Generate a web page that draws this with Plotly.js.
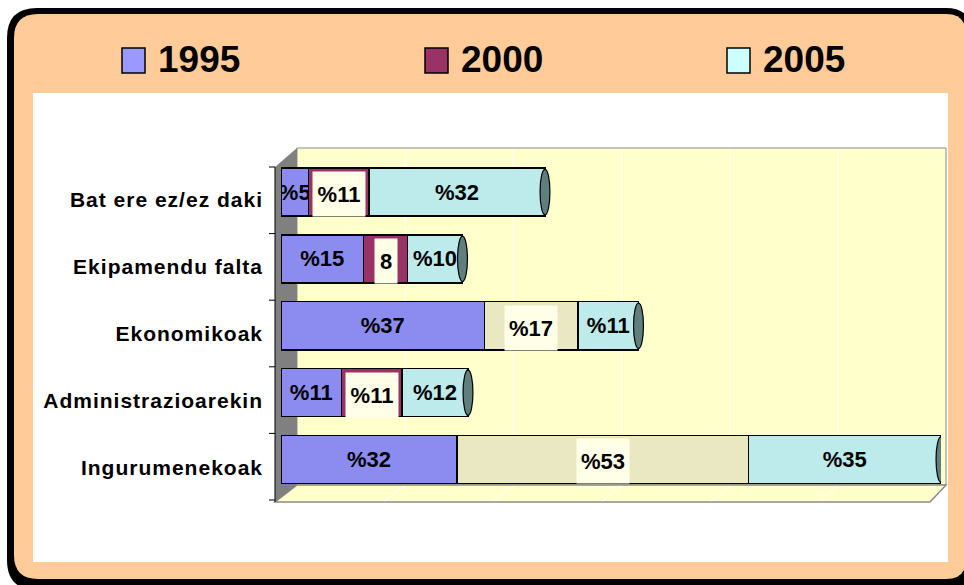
<!DOCTYPE html>
<html>
<head>
<meta charset="utf-8">
<script src="https://cdn.plot.ly/plotly-3.0.1.min.js"></script>
<style>
html,body{margin:0;padding:0;background:#fff;overflow:hidden;}
#chart{width:964px;height:585px;}
.ytick text{letter-spacing:1px;}
</style>
</head>
<body>
<div id="chart"></div>
<script>
// ---- data ----
const categories = ['Ingurumenekoak','Administrazioarekin','Ekonomikoak','Ekipamendu falta','Bat ere ez/ez daki'];
const years = ['1995','2000','2005'];
const v1995 = [32, 11, 37, 15, 5];
const v2000 = [53, 11, 17, 8, 11];
const v2005 = [35, 12, 11, 10, 32];
const lab1995 = ['%32','%11','%37','%15','%5'];
const lab2000 = ['%53','%11','%17','8','%11'];
const lab2005 = ['%35','%12','%11','%10','%32'];
const gridVals = [20, 40, 60, 80, 100];

// ---- styling helpers ----
const W = 964, H = 585;
const X = v => (v / W).toFixed(5);
const Y = v => (1 - v / H).toFixed(5);
function frame(x0, y0, x1, y1, r, rTR) {
  return `M${X(x0+r)},${Y(y0)} L${X(x1-rTR)},${Y(y0)} Q${X(x1)},${Y(y0)} ${X(x1)},${Y(y0+rTR)} ` +
         `L${X(x1)},${Y(y1-rTR)} Q${X(x1)},${Y(y1)} ${X(x1-rTR)},${Y(y1)} L${X(x0+r)},${Y(y1)} ` +
         `Q${X(x0)},${Y(y1)} ${X(x0)},${Y(y1-r)} L${X(x0)},${Y(y0+r)} Q${X(x0)},${Y(y0)} ${X(x0+r)},${Y(y0)} Z`;
}
function poly(pts) {
  return 'M' + pts.map(p => X(p[0]) + ',' + Y(p[1])).join(' L') + ' Z';
}
const paperShape = (path, fill, lineColor, lw) => ({
  type: 'path', xref: 'paper', yref: 'paper', layer: 'below', path: path,
  fillcolor: fill, line: {color: lineColor || 'rgba(0,0,0,0)', width: lw || 0}
});

const colors1995 = '#8c8cf0';
const colors2000 = ['#e9e8c2', '#993366', '#e9e8c2', '#993366', '#993366'];
const colors2005 = '#bdeaea';
const legendColors = ['#9999FF', '#993366', '#CCFFFF'];
const legendX = [122, 425, 727];

const shapes = [];
// frame
shapes.push(paperShape(frame(7, 8, 972, 590, 30, 26), '#000000'));
shapes.push(paperShape(frame(14, 14, 966, 579, 24, 20), '#FFCC99'));
shapes.push({type: 'rect', xref: 'paper', yref: 'paper', layer: 'below',
  x0: X(920), x1: X(964), y0: Y(40), y1: Y(560), fillcolor: '#FFCC99', line: {width: 0}});
shapes.push(paperShape(poly([[33,93],[948,93],[948,562],[33,562]]), '#FFFFFF'));
// back wall
const wx0 = 297, wx1 = 946, wy0 = 148, wy1 = 485;
shapes.push(paperShape(poly([[wx0,wy0],[wx1,wy0],[wx1,wy1],[wx0,wy1]]), '#FFFFCC', '#8a8a8a', 1));
// floor
const fx0 = 275, fx1 = 930, fy = 502;
shapes.push(paperShape(poly([[fx0,fy],[wx0,wy1],[wx1,wy1],[fx1,fy]]), '#FFFFCC', '#8a8a8a', 1.5));
// grid on wall and floor
gridVals.forEach(g => {
  const bx = wx0 + (wx1 - wx0) * g / 120;
  const fxp = fx0 + (fx1 - fx0) * g / 120;
  shapes.push(paperShape(`M${X(bx)},${Y(wy0+1)} L${X(bx)},${Y(wy1-1)}`, 'rgba(0,0,0,0)', '#FFFFFF', 1));
  shapes.push(paperShape(`M${X(fxp)},${Y(fy-1)} L${X(bx)},${Y(wy1+1)}`, 'rgba(0,0,0,0)', '#FFFFFF', 1));
});
// side wall
shapes.push(paperShape(poly([[275,167],[wx0,wy0],[wx0,wy1],[275,fy]]), '#808080'));
// axis line and ticks
shapes.push(paperShape(`M${X(275)},${Y(167)} L${X(275)},${Y(502)}`, 'rgba(0,0,0,0)', '#000000', 1));
for (let i = 0; i <= categories.length; i++) {
  const ty = 167 + i * (500 - 167) / categories.length;
  shapes.push(paperShape(`M${X(269)},${Y(ty)} L${X(275)},${Y(ty)}`, 'rgba(0,0,0,0)', '#000000', 1));
}
// legend squares
years.forEach((yr, k) => {
  shapes.push({type: 'rect', xref: 'paper', yref: 'paper', layer: 'below',
    x0: X(legendX[k]), x1: X(legendX[k] + 23), y0: Y(73), y1: Y(48),
    fillcolor: legendColors[k], line: {color: '#000', width: 1.5}});
});
// cylinder end caps
categories.forEach((c, i) => {
  const tot = v1995[i] + v2000[i] + v2005[i];
  shapes.push({type: 'circle', xref: 'x', yref: 'y', layer: 'above',
    x0: tot - 0.9, x1: tot + 0.9, y0: i - 0.34, y1: i + 0.34,
    fillcolor: '#5f7f7f', line: {color: '#000', width: 1.2}});
});

const txtFont = {family: 'Liberation Sans, Arial, sans-serif', size: 22, color: '#000', weight: 'bold'};
const barLine = {color: '#000', width: 1.5};

const traces = [
  {type: 'bar', orientation: 'h', name: years[0], y: categories, x: v1995,
   marker: {color: colors1995, line: barLine}, text: lab1995, textposition: 'inside',
   insidetextanchor: 'middle', textangle: 0, constraintext: 'none',
   textfont: txtFont, insidetextfont: txtFont, hoverinfo: 'skip', width: 0.72},
  {type: 'bar', orientation: 'h', name: years[1], y: categories, x: v2000,
   marker: {color: colors2000, line: barLine}, textposition: 'none', hoverinfo: 'skip', width: 0.72},
  {type: 'bar', orientation: 'h', name: years[2], y: categories, x: v2005,
   marker: {color: colors2005, line: barLine}, text: lab2005, textposition: 'inside',
   insidetextanchor: 'middle', textangle: 0, constraintext: 'none',
   textfont: txtFont, insidetextfont: txtFont, hoverinfo: 'skip', width: 0.72}
];

const annotations = [];
categories.forEach((c, i) => {
  annotations.push({xref: 'x', yref: 'y', x: v1995[i] + v2000[i] / 2, y: c,
    text: lab2000[i], showarrow: false, bgcolor: '#FFFFE8',
    width: lab2000[i].length > 1 ? 50 : 20, height: 42, yshift: -2,
    font: txtFont});
});
years.forEach((yr, k) => {
  annotations.push({xref: 'paper', yref: 'paper', x: X(legendX[k] + 34), y: Y(60),
    xanchor: 'left', yanchor: 'middle', text: yr, showarrow: false,
    font: {family: 'Liberation Sans, Arial, sans-serif', size: 37, color: '#000', weight: 'bold'}});
});

const layout = {
  width: W, height: H,
  margin: {l: 0, r: 0, t: 0, b: 0},
  paper_bgcolor: '#FFFFFF', plot_bgcolor: 'rgba(0,0,0,0)',
  barmode: 'stack', showlegend: false,
  xaxis: {domain: [281 / W, 941 / W], range: [0, 120], showgrid: false, zeroline: false,
          showticklabels: false, showline: false, fixedrange: true},
  yaxis: {domain: [1 - 492.9 / H, 1 - 158.6 / H], range: [-0.5, 4.5], type: 'category',
          categoryorder: 'array', categoryarray: categories,
          showgrid: false, zeroline: false, showline: false, ticks: '',
          ticklabelstandoff: 17, ticklabelshift: 8,
          tickfont: {family: 'Liberation Sans, Arial, sans-serif', size: 21, color: '#000', weight: 'bold'}},
  shapes: shapes,
  annotations: annotations
};

Plotly.newPlot('chart', traces, layout, {displayModeBar: false, staticPlot: true});
</script>
</body>
</html>
